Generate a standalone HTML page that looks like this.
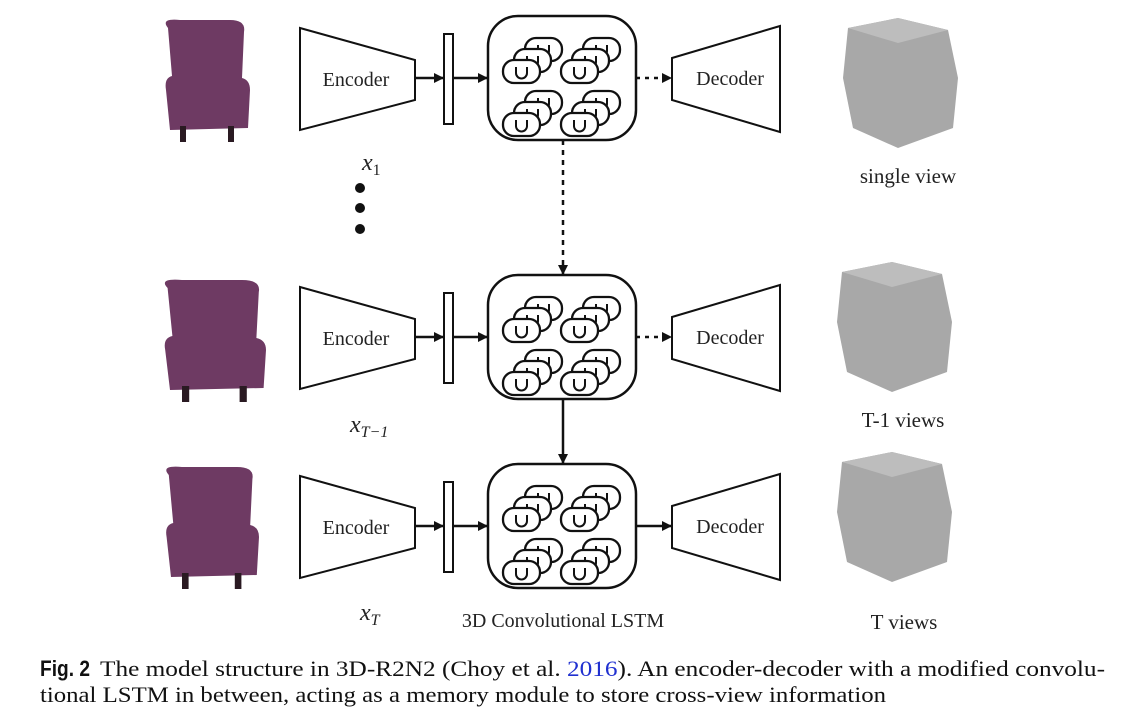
<!DOCTYPE html>
<html><head><meta charset="utf-8"><style>
html,body{margin:0;padding:0;background:#fff;width:1126px;height:721px;overflow:hidden}
svg{display:block}
</style></head><body>
<svg width="1126" height="721" viewBox="0 0 1126 721" xmlns="http://www.w3.org/2000/svg">
<defs>
<marker id="ah" markerWidth="10" markerHeight="10" refX="9" refY="5" orient="auto" markerUnits="userSpaceOnUse">
<path d="M0,0 L10,5 L0,10 z" fill="#111"/></marker>
<g id="cell">
<rect x="0" y="0" width="37" height="23" rx="11" fill="#fff" stroke="#111" stroke-width="2.3"/>
<path d="M13,7 v6 a5.5,5.5 0 0 0 11,0 v-6" fill="none" stroke="#111" stroke-width="2"/>
</g>
<g id="grp">
<use href="#cell" x="22" y="-22"/><use href="#cell" x="11" y="-11"/><use href="#cell" x="0" y="0"/>
</g>
<g id="lstm">
<rect x="0" y="0" width="148" height="124" rx="30" fill="#fff" stroke="#111" stroke-width="2.5"/>
<use href="#grp" x="15" y="44"/><use href="#grp" x="73" y="44"/>
<use href="#grp" x="15" y="97"/><use href="#grp" x="73" y="97"/>
</g>
<g id="row">
<polygon points="300,-50 415,-18 415,22 300,52" fill="#fff" stroke="#111" stroke-width="2"/>
<text x="356" y="8" font-family="Liberation Serif,serif" font-size="20" text-anchor="middle" fill="#222">Encoder</text>
<rect x="444" y="-44" width="9" height="90" fill="#fff" stroke="#111" stroke-width="2"/>
<line x1="415" y1="0" x2="443" y2="0" stroke="#111" stroke-width="2.5" marker-end="url(#ah)"/>
<line x1="453" y1="0" x2="487" y2="0" stroke="#111" stroke-width="2.5" marker-end="url(#ah)"/>
<polygon points="672,-20 780,-52 780,54 672,22" fill="#fff" stroke="#111" stroke-width="2"/>
<text x="730" y="7" font-family="Liberation Serif,serif" font-size="20" text-anchor="middle" fill="#222">Decoder</text>
</g>
<g id="chair">
<path d="M8,10 Q0,0 20,2 L70,2 Q86,2 84,14 L82,60 Q90,62 90,72 L88,110 L10,112 L6,72 Q4,60 12,58 Z" fill="#6e3a63"/>
<rect x="20" y="108" width="6" height="16" fill="#2a1a22"/><rect x="68" y="108" width="6" height="16" fill="#2a1a22"/>
</g>
<g id="vox">
<path d="M10,10 L60,0 L110,12 L120,60 L115,110 L60,130 L15,110 L5,60 Z" fill="#a8a8a8"/>
<path d="M10,10 L60,0 L110,12 L60,25 Z" fill="#bdbdbd"/>
</g>
</defs>

<use href="#chair" x="160" y="18"/>
<use href="#chair" transform="translate(158,278) scale(1.2,1)"/>
<use href="#chair" transform="translate(160,465) scale(1.1,1)"/>
<use href="#vox" x="838" y="18"/>
<use href="#vox" x="832" y="262"/>
<use href="#vox" x="832" y="452"/>

<use href="#row" y="78"/>
<use href="#row" y="337"/>
<use href="#row" y="526"/>
<line x1="636" y1="78" x2="671" y2="78" stroke="#111" stroke-width="2.5" stroke-dasharray="4,5" marker-end="url(#ah)"/>
<line x1="636" y1="337" x2="671" y2="337" stroke="#111" stroke-width="2.5" stroke-dasharray="4,5" marker-end="url(#ah)"/>
<line x1="636" y1="526" x2="671" y2="526" stroke="#111" stroke-width="2.5" marker-end="url(#ah)"/>

<use href="#lstm" x="488" y="16"/>
<use href="#lstm" x="488" y="275"/>
<use href="#lstm" x="488" y="464"/>

<line x1="563" y1="140" x2="563" y2="274" stroke="#111" stroke-width="2.5" stroke-dasharray="5,5" marker-end="url(#ah)"/>
<line x1="563" y1="399" x2="563" y2="463" stroke="#111" stroke-width="2.5" marker-end="url(#ah)"/>

<circle cx="360" cy="188" r="5" fill="#111"/><circle cx="360" cy="208" r="5" fill="#111"/><circle cx="360" cy="229" r="5" fill="#111"/>

<g font-family="Liberation Serif,serif" fill="#222">
<text x="362" y="170" font-size="24" font-style="italic">x<tspan font-size="16" font-style="normal" dy="5">1</tspan></text>
<text x="350" y="432" font-size="24" font-style="italic">x<tspan font-size="16" dy="5">T−1</tspan></text>
<text x="360" y="620" font-size="24" font-style="italic">x<tspan font-size="16" dy="5">T</tspan></text>
<text x="908" y="183" font-size="21" text-anchor="middle">single view</text>
<text x="903" y="427" font-size="21" text-anchor="middle">T-1 views</text>
<text x="904" y="629" font-size="21" text-anchor="middle">T views</text>
<text x="563" y="627" font-size="20" text-anchor="middle">3D Convolutional LSTM</text>
</g>

<g font-size="22" fill="#111">
<text x="40" y="676" font-family="Liberation Sans,sans-serif" font-weight="bold" textLength="50" lengthAdjust="spacingAndGlyphs">Fig. 2</text>
<text x="100" y="676" font-family="Liberation Serif,serif" textLength="1005" lengthAdjust="spacingAndGlyphs">The model structure in 3D-R2N2 (Choy et al. <tspan fill="#2030d0">2016</tspan>). An encoder-decoder with a modified convolu-</text>
<text x="40" y="702" font-family="Liberation Serif,serif" textLength="846" lengthAdjust="spacingAndGlyphs">tional LSTM in between, acting as a memory module to store cross-view information</text>
</g>
</svg>
</body></html>
